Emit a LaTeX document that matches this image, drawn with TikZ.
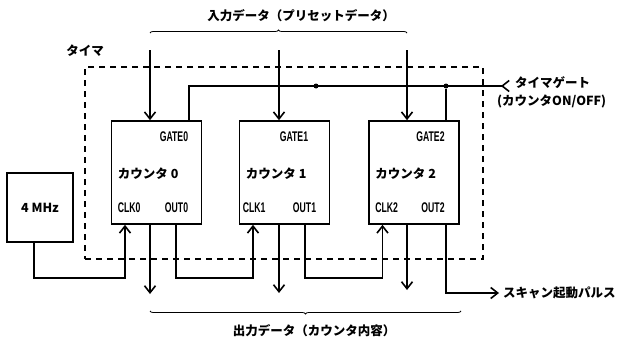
\documentclass[tikz,border=0pt]{standalone}
\usepackage{fontspec}
\usepackage{graphicx}
\usepackage{tikz}
\usetikzlibrary{arrows.meta, positioning, decorations.pathreplacing}
\newfontfamily\jpfont{Noto Sans CJK JP}
\newfontfamily\pinfont{Liberation Sans}
\newcommand{\pintext}[1]{\scalebox{0.62}[1]{\pinfont\bfseries\fontsize{14}{14}\selectfont #1}}
\tikzset{
  ctrbox/.style={draw, line width=1.6pt, minimum width=90pt, minimum height=103pt, inner sep=0pt},
  oscbox/.style={draw, line width=1.6pt, minimum width=66pt, minimum height=69pt,
    font=\jpfont\bfseries\fontsize{12.5}{12.5}\selectfont},
  wire/.style={line width=1.6pt},
  arrow/.style={wire, -{Straight Barb[length=7pt, width=11pt]}},
  gatearrow/.style={wire, -{Straight Barb[length=7pt, width=11pt, reversed]}},
  timerbox/.style={draw, line width=1.4pt, dash pattern=on 6pt off 5pt, inner sep=0pt},
  pinlabel/.style={inner sep=0pt},
  jplabel/.style={font=\jpfont\bfseries\fontsize{12.5}{12.5}\selectfont, inner sep=0pt},
  ctrlabel/.style={font=\jpfont\bfseries\fontsize{12.5}{12.5}\selectfont, inner sep=0pt},
  bracket/.style={decorate, decoration={brace, amplitude=3pt}, line width=0.8pt},
  junction/.style={circle, fill, inner sep=0pt, minimum size=5pt}
}

\begin{document}
\begin{tikzpicture}[x=1pt, y=-1pt]
  \useasboundingbox (0,0) rectangle (619,340);

  % Timer frame
  \node[timerbox, minimum width=398pt, minimum height=192pt] (timer) at (284,163) {};
  \node[jplabel] (timerlabel) at (85,51) {タイマ};

  % Counters
  \node[ctrbox] (cnt0) at (156.5,172.5) {};
  \node[ctrbox] (cnt1) at (284.5,172.5) {};
  \node[ctrbox] (cnt2) at (414,172.5) {};

  \node[pinlabel, anchor=east] (gate0) at ([xshift=-14pt, yshift=-16pt]cnt0.north east) {\pintext{GATE0}};
  \node[pinlabel, anchor=east] (gate1) at ([xshift=-22pt, yshift=-16pt]cnt1.north east) {\pintext{GATE1}};
  \node[pinlabel, anchor=east] (gate2) at ([xshift=-15pt, yshift=-16pt]cnt2.north east) {\pintext{GATE2}};

  \node[ctrlabel, anchor=west] (name0) at ([xshift=7pt, yshift=-1pt]cnt0.west) {カウンタ 0};
  \node[ctrlabel, anchor=west] (name1) at ([xshift=7pt, yshift=-1pt]cnt1.west) {カウンタ 1};
  \node[ctrlabel, anchor=west] (name2) at ([xshift=7pt, yshift=-1pt]cnt2.west) {カウンタ 2};

  \node[pinlabel, anchor=west] (clk0) at ([xshift=7pt, yshift=17pt]cnt0.south west) {\pintext{CLK0}};
  \node[pinlabel, anchor=west] (clk1) at ([xshift=4pt, yshift=17pt]cnt1.south west) {\pintext{CLK1}};
  \node[pinlabel, anchor=west] (clk2) at ([xshift=7pt, yshift=17pt]cnt2.south west) {\pintext{CLK2}};
  \node[pinlabel, anchor=east] (out0) at ([xshift=-14pt, yshift=17pt]cnt0.south east) {\pintext{OUT0}};
  \node[pinlabel, anchor=east] (out1) at ([xshift=-14pt, yshift=17pt]cnt1.south east) {\pintext{OUT1}};
  \node[pinlabel, anchor=east] (out2) at ([xshift=-15pt, yshift=17pt]cnt2.south east) {\pintext{OUT2}};

  % Oscillator
  \node[oscbox] (osc) at (40,207.5) {4 MHz};

  % Input data
  \node[jplabel] (indata) at (301,16) {入力データ（プリセットデータ）};
  \coordinate (in0) at (150,50);
  \coordinate (in1) at (279,50);
  \coordinate (in2) at (407,50);
  \draw[bracket] ([yshift=17pt]in0) -- ([yshift=17pt]in2);
  \draw[arrow] (in0) -- (in0 |- cnt0.north);
  \draw[arrow] (in1) -- (in1 |- cnt1.north);
  \draw[arrow] (in2) -- (in2 |- cnt2.north);

  % Timer gate
  \node[jplabel, anchor=west] (tgate) at (515,83) {タイマゲート};
  \node[jplabel, anchor=west] (tgatesub) at (497,101) {(カウンタON/OFF)};
  \coordinate (gatein) at (510,86);
  \node[junction] (j1) at (316,86) {};
  \node[junction] (j2) at (446,86) {};
  \draw[gatearrow] ([xshift=32.5pt]cnt0.north) |- (gatein);
  \draw[wire] (j2) -- (j2 |- cnt2.north);

  % Clock chain
  \draw[arrow] ([xshift=-6pt]osc.south) -- ++(0,35) -| ([xshift=-31.5pt]cnt0.south);
  \draw[arrow] ([xshift=19.5pt]cnt0.south) -- ++(0,53) -| ([xshift=-31.5pt]cnt1.south);
  \draw[arrow] ([xshift=20.5pt]cnt1.south) -- ++(0,53) -| ([xshift=-31.5pt]cnt2.south);

  % Scan pulse
  \node[jplabel, anchor=west] (scan) at (503,293) {スキャン起動パルス};
  \draw[arrow] ([xshift=32pt]cnt2.south) |- ([xshift=-4pt]scan.west);

  % Output data
  \coordinate (od0) at (150,294);
  \coordinate (od1) at (279,293);
  \coordinate (od2) at (407,290);
  \draw[arrow] (od0 |- cnt0.south) -- (od0);
  \draw[arrow] (od1 |- cnt1.south) -- (od1);
  \draw[arrow] (od2 |- cnt2.south) -- (od2);
  \draw[bracket] (461,311) -- (150,311);
  \node[jplabel] (outdata) at (314,331) {出力データ（カウンタ内容）};
\end{tikzpicture}
\end{document}
